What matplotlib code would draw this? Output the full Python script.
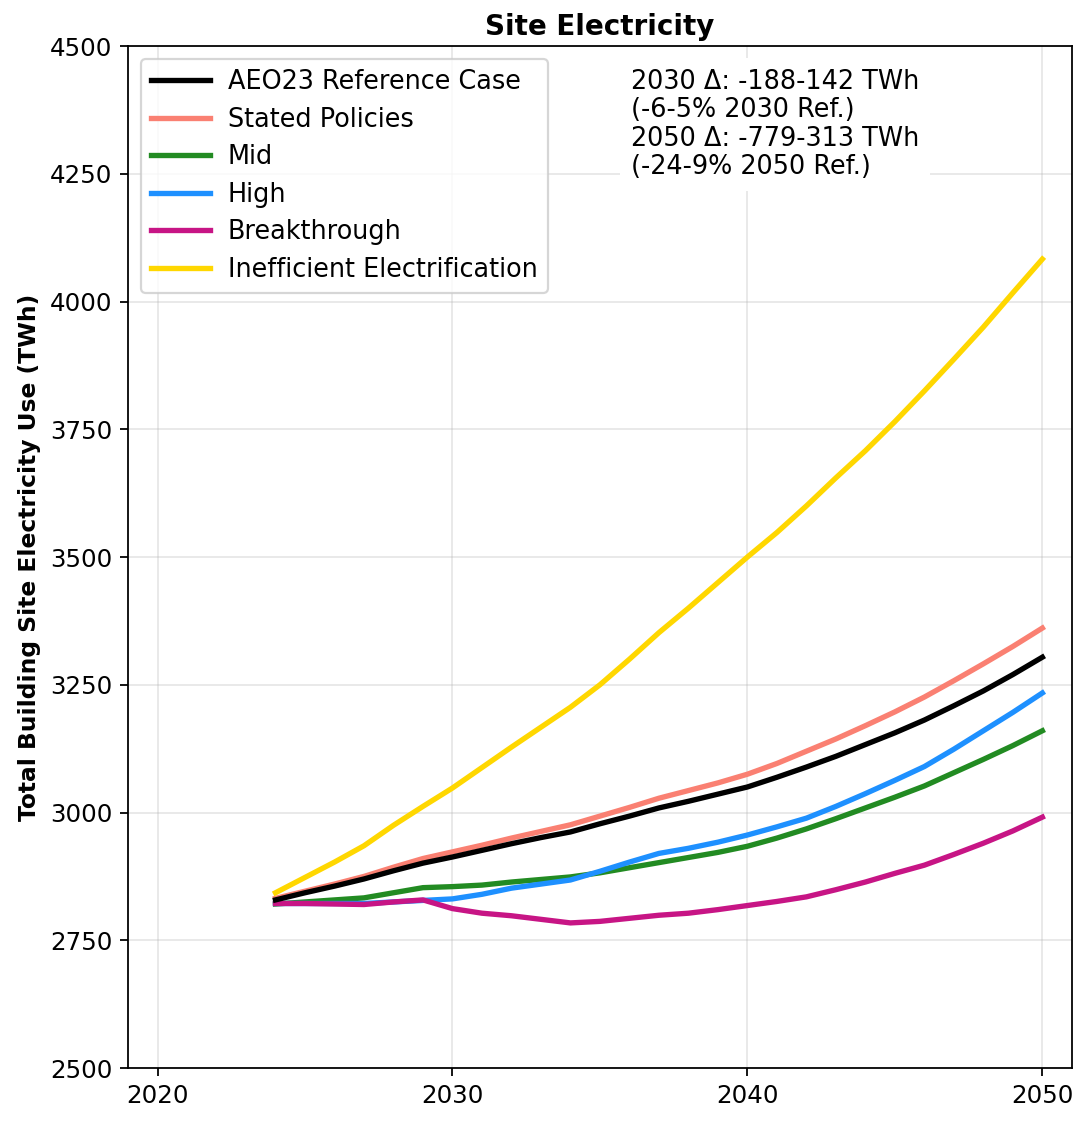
import matplotlib
matplotlib.use("Agg")
import matplotlib.pyplot as plt

# Annual site electricity projections, TWh
years = list(range(2024, 2051))

reference = [2829, 2843, 2856, 2870, 2886, 2901, 2913, 2926, 2939, 2951,
             2962, 2978, 2993, 3009, 3022, 3036, 3050, 3069, 3089, 3110,
             3133, 3156, 3181, 3209, 3238, 3270, 3304]
stated_policies = [2832, 2846, 2860, 2875, 2893, 2910, 2923, 2936, 2950, 2963,
                   2976, 2993, 3010, 3028, 3043, 3058, 3075, 3096, 3120, 3144,
                   3170, 3197, 3226, 3258, 3291, 3325, 3361]
mid = [2821, 2825, 2829, 2833, 2843, 2853, 2855, 2858, 2864, 2869,
       2874, 2882, 2892, 2902, 2912, 2922, 2934, 2950, 2968, 2988,
       3009, 3030, 3052, 3078, 3104, 3131, 3160]
high = [2822, 2822, 2822, 2822, 2825, 2828, 2831, 2840, 2852, 2860,
        2868, 2885, 2903, 2920, 2930, 2942, 2956, 2972, 2989, 3012,
        3037, 3063, 3090, 3124, 3160, 3196, 3234]
breakthrough = [2822, 2822, 2821, 2820, 2825, 2829, 2812, 2803, 2798, 2791,
                2784, 2787, 2793, 2799, 2803, 2810, 2818, 2826, 2835, 2849,
                2864, 2881, 2897, 2918, 2940, 2964, 2991]
inefficient = [2843, 2873, 2903, 2935, 2975, 3012, 3048, 3088, 3128, 3167,
               3206, 3250, 3300, 3352, 3400, 3450, 3500, 3548, 3600, 3655,
               3708, 3765, 3825, 3887, 3950, 4017, 4083]

SERIES = [
    ("AEO23 Reference Case", reference, "black", 4),
    ("Stated Policies", stated_policies, "salmon", 3),
    ("Mid", mid, "forestgreen", 3),
    ("High", high, "dodgerblue", 3),
    ("Breakthrough", breakthrough, "mediumvioletred", 3),
    ("Inefficient Electrification", inefficient, "gold", 3),
]

delta_text = ("2030 \u0394: -188-142 TWh\n(-6-5% 2030 Ref.)\n"
              "2050 \u0394: -779-313 TWh\n(-24-9% 2050 Ref.)")

fig = plt.figure(figsize=(1074 / 160, 1139 / 160), dpi=160)
ax = fig.add_axes([0.1192, 0.0623, 0.8788, 0.8973])

for label, values, color, z in SERIES:
    ax.plot(years, values, color=color, linewidth=2.4, label=label, zorder=z)

ax.set_xlim(2019, 2051)
ax.set_ylim(2500, 4500)
ax.set_xticks([2020, 2030, 2040, 2050])
ax.set_yticks(range(2500, 4501, 250))
ax.tick_params(labelsize=11)
ax.grid(True, alpha=0.3)

ax.set_title("Site Electricity", fontsize=12.5, fontweight="bold", pad=5)
ax.set_ylabel("Total Building Site Electricity Use (TWh)", fontsize=10.5,
              fontweight="bold")

ax.legend(loc="upper left", fontsize=11.5, handlelength=2.3,
          handletextpad=0.7, labelspacing=0.45)
ax.text(0.533, 0.978, delta_text, transform=ax.transAxes, fontsize=11.5,
        va="top", ha="left", linespacing=1.13, zorder=5,
        bbox=dict(facecolor="white", edgecolor="none", pad=5))

fig.savefig("out.png", dpi=160)
